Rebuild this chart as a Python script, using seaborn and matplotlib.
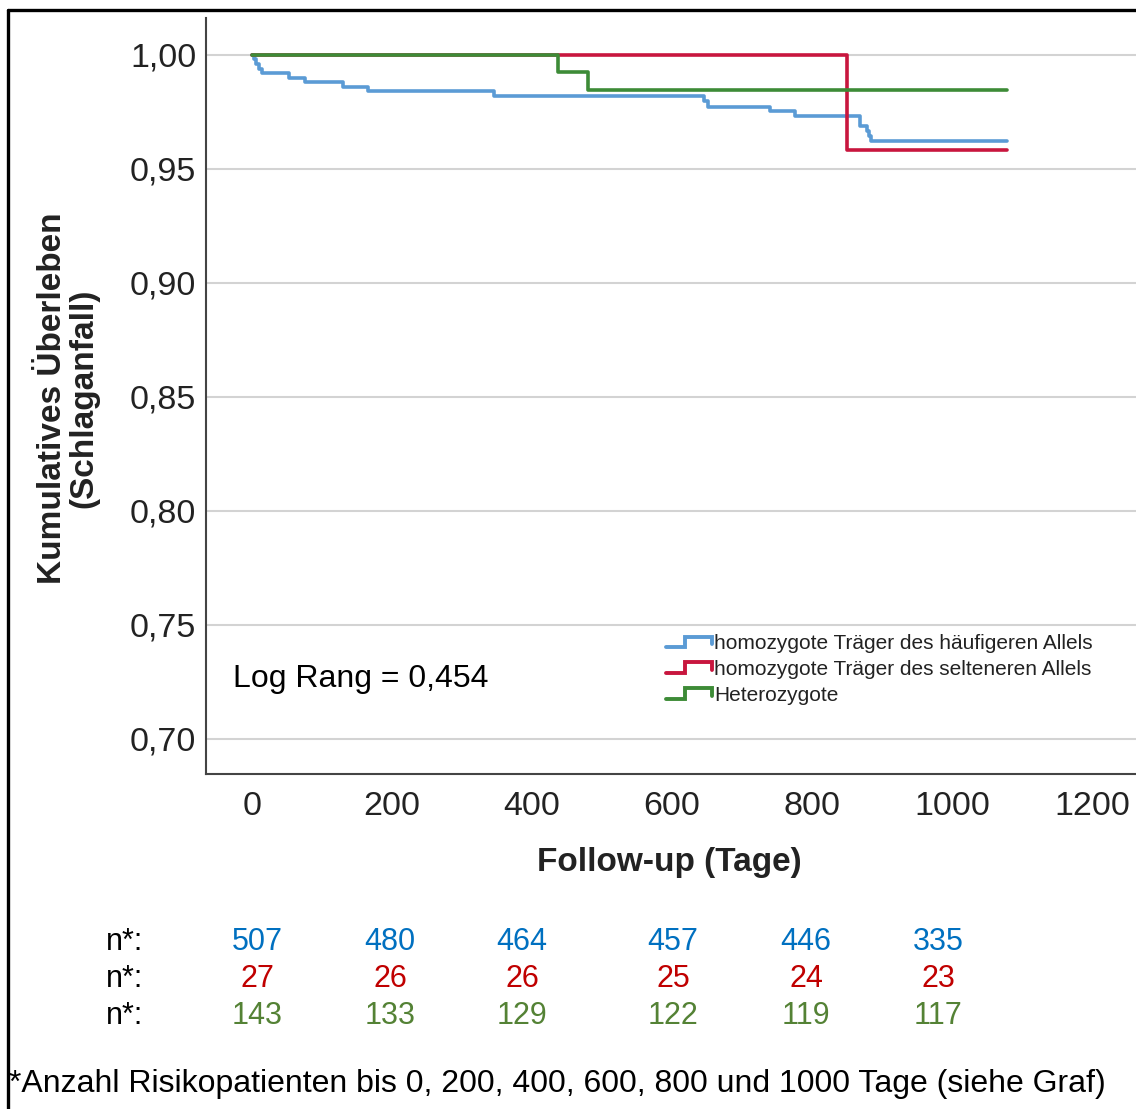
import numpy as np
import pandas as pd
import seaborn as sns
import matplotlib
matplotlib.use("Agg")
import matplotlib.pyplot as plt
from matplotlib.lines import Line2D
from matplotlib.legend_handler import HandlerBase

# ---------------- data ----------------
groups = ["homozygote Träger des häufigeren Allels",
          "homozygote Träger des selteneren Allels",
          "Heterozygote"]

blue_t = [0, 3, 6, 10, 14, 52, 76, 130, 166, 345, 645, 652, 740, 776, 869, 878, 881, 884, 1078]
blue_s = [1.0, 0.998, 0.996, 0.994, 0.992, 0.990, 0.988, 0.986, 0.984, 0.982,
          0.9797, 0.9773, 0.9754, 0.9732, 0.9689, 0.9668, 0.9645, 0.9623, 0.9623]
red_t = [0, 850, 1078]
red_s = [1.0, 0.9585, 0.9585]
green_t = [0, 437, 480, 1078]
green_s = [1.0, 0.9924, 0.9845, 0.9845]

x_ticks = [0, 200, 400, 600, 800, 1000, 1200]
y_ticks = [0.70, 0.75, 0.80, 0.85, 0.90, 0.95, 1.00]
y_tick_labels = ["0,70", "0,75", "0,80", "0,85", "0,90", "0,95", "1,00"]

n_blue = [507, 480, 464, 457, 446, 335]
n_red = [27, 26, 26, 25, 24, 23]
n_green = [143, 133, 129, 122, 119, 117]

line_colors = ["#5b9bd5", "#c8163e", "#3d8b37"]
n_colors = ["#0070c0", "#c00000", "#548235"]

# ---------------- style ----------------
sns.set_style("white")
plt.rcParams["font.family"] = ["Liberation Sans", "DejaVu Sans"]

W, H = 1136, 1109
fig = plt.figure(figsize=(W / 100, H / 100), dpi=100)

def fx(px):
    return px / W

def fy(py):
    return 1 - py / H

ax = fig.add_axes([fx(206), fy(774), 1 - fx(206), fy(18) - fy(774)])

frames = []
for g, t, s in zip(groups, [blue_t, red_t, green_t], [blue_s, red_s, green_s]):
    frames.append(pd.DataFrame({"t": t, "s": s, "group": g}))
df = pd.concat(frames, ignore_index=True)

sns.lineplot(data=df, x="t", y="s", hue="group", hue_order=groups,
             palette=line_colors, estimator=None, drawstyle="steps-post",
             lw=2.6, legend=False, ax=ax, zorder=3)

ax.set_xlim(-66, 1263)
ax.set_ylim(0.6846, 1.0162)
ax.set_xticks(x_ticks)
ax.set_xticklabels([str(v) for v in x_ticks])
ax.set_yticks(y_ticks)
ax.set_yticklabels(y_tick_labels)
ax.tick_params(axis="both", length=0, labelsize=24.5, colors="#222222")
ax.tick_params(axis="y", pad=7)
ax.tick_params(axis="x", pad=12)
ax.grid(axis="y", color="#d3d3d3", lw=1.5)
ax.grid(axis="x", visible=False)
ax.set_xlabel("")
ax.set_ylabel("")
for side in ["top", "right"]:
    ax.spines[side].set_visible(False)
for side in ["left", "bottom"]:
    ax.spines[side].set_color("#444444")
    ax.spines[side].set_linewidth(1.5)

# axis labels
fig.text(fx(669), fy(862), "Follow-up (Tage)", ha="center", va="center",
         fontsize=24, fontweight="bold", color="#222222")
fig.text(fx(68), fy(398), "Kumulatives Überleben\n(Schlaganfall)", ha="center",
         va="center", rotation=90, fontsize=24, fontweight="bold",
         color="#222222", multialignment="center", linespacing=1.0)

fig.text(fx(233), fy(679), "Log Rang = 0,454", ha="left", va="center",
         fontsize=23, color="black")

# legend with step-shaped handles
class StepHandler(HandlerBase):
    def create_artists(self, legend, orig_handle, xdescent, ydescent,
                       width, height, fontsize, trans):
        xs = np.array([0, 0.42, 0.42, 1.0, 1.0]) * width - xdescent
        ys = np.array([0.15, 0.15, 0.85, 0.85, 0.35]) * height - ydescent
        ln = Line2D(xs, ys, color=orig_handle.get_color(), lw=2.8,
                    solid_joinstyle="miter")
        ln.set_transform(trans)
        return [ln]

handles = [Line2D([], [], color=c) for c in line_colors]
leg = fig.legend(handles, groups, loc="upper left",
                 bbox_to_anchor=(fx(666), fy(634)), frameon=False,
                 fontsize=15, handlelength=2.2, handletextpad=0.1,
                 labelspacing=0.33, borderpad=0, borderaxespad=0,
                 handler_map={Line2D: StepHandler()})
for t in leg.get_texts():
    t.set_color("#222222")

# numbers at risk
row_y = [942, 979, 1016]
col_x = [257, 390, 522, 673, 806, 938]
for ry, vals, col in zip(row_y, [n_blue, n_red, n_green], n_colors):
    fig.text(fx(125), fy(ry), "n*:", ha="center", va="center", fontsize=22, color="black")
    for cx, v in zip(col_x, vals):
        fig.text(fx(cx), fy(ry), str(v), ha="center", va="center", fontsize=22, color=col)

fig.text(fx(9), fy(1084),
         "*Anzahl Risikopatienten bis 0, 200, 400, 600, 800 und 1000 Tage (siehe Graf)",
         ha="left", va="center", fontsize=23, color="black")

# outer frame (left and top edges visible)
fig.add_artist(Line2D([fx(8), fx(8)], [fy(10), 0], transform=fig.transFigure,
                      color="black", lw=2.4))
fig.add_artist(Line2D([fx(8), 1], [fy(10), fy(10)], transform=fig.transFigure,
                      color="black", lw=2.4))

fig.savefig("out.png", dpi=100)
